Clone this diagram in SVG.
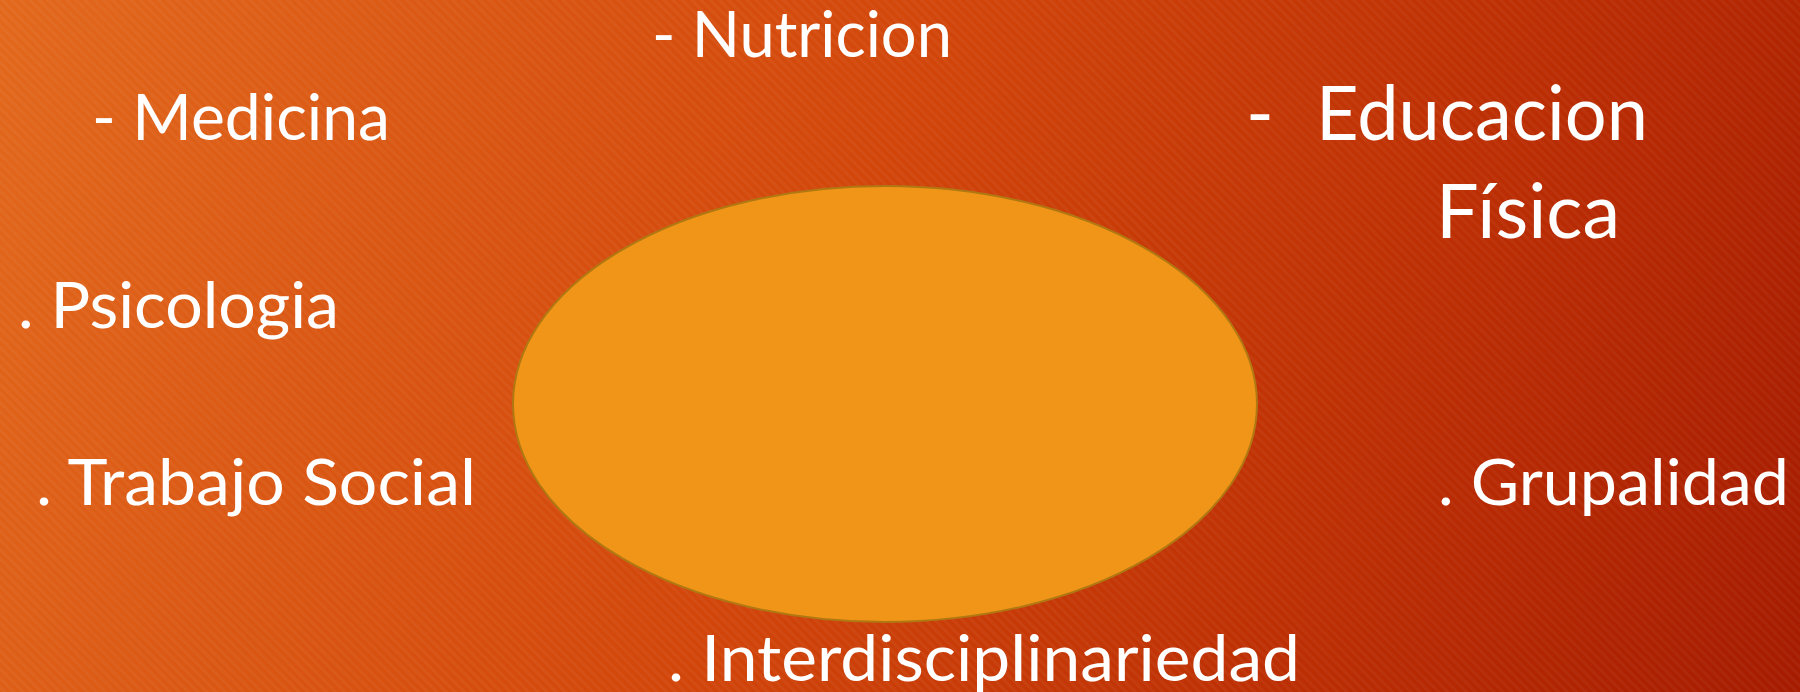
<svg xmlns="http://www.w3.org/2000/svg" width="1800" height="692" viewBox="0 0 1800 692">
  <defs>
    <linearGradient id="bg" x1="0" y1="0" x2="1800" y2="692" gradientUnits="userSpaceOnUse">
      <stop offset="0" stop-color="#E2681C"/>
      <stop offset="0.45" stop-color="#D2460A"/>
      <stop offset="0.75" stop-color="#BC2E03"/>
      <stop offset="1" stop-color="#A51B00"/>
    </linearGradient>
    <pattern id="stripes" width="6.5" height="6.5" patternUnits="userSpaceOnUse" patternTransform="rotate(-45)">
      <rect x="0" y="0" width="3" height="6.5" fill="#ffffff" opacity="0.04"/>
    </pattern>
    <style>
      .lbl { font-family: "Lato", "Open Sans", "Liberation Sans", sans-serif; font-size: 63px; fill: #ffffff; }
      .big { font-size: 75px; }
    </style>
  </defs>
  <rect x="0" y="0" width="1800" height="692" fill="url(#bg)"/>
  <rect x="0" y="0" width="1800" height="692" fill="url(#stripes)"/>

  <g id="center">
    <ellipse cx="885" cy="404" rx="372" ry="218" fill="#F09518" stroke="#B07812" stroke-width="2"/>
  </g>

  <g id="nutricion">
    <text class="lbl" x="652" y="57" textLength="300" lengthAdjust="spacingAndGlyphs">- Nutricion</text>
  </g>
  <g id="medicina">
    <text class="lbl" x="92" y="140" textLength="298" lengthAdjust="spacingAndGlyphs">- Medicina</text>
  </g>
  <g id="psicologia">
    <text class="lbl" x="18" y="328" textLength="321" lengthAdjust="spacingAndGlyphs">. Psicologia</text>
  </g>
  <g id="educacion">
    <text class="lbl big" y="140"><tspan x="1246">-</tspan><tspan x="1316" textLength="332" lengthAdjust="spacingAndGlyphs">Educacion</tspan></text>
    <text class="lbl big" x="1436" y="238" textLength="184" lengthAdjust="spacingAndGlyphs">Física</text>
  </g>
  <g id="trabajo-social">
    <text class="lbl" x="36" y="505" textLength="440" lengthAdjust="spacingAndGlyphs">. Trabajo Social</text>
  </g>
  <g id="grupalidad">
    <text class="lbl" x="1438" y="505" textLength="351" lengthAdjust="spacingAndGlyphs">. Grupalidad</text>
  </g>
  <g id="interdisciplinariedad">
    <text class="lbl" x="668" y="681" textLength="632" lengthAdjust="spacingAndGlyphs">. Interdisciplinariedad</text>
  </g>
</svg>
